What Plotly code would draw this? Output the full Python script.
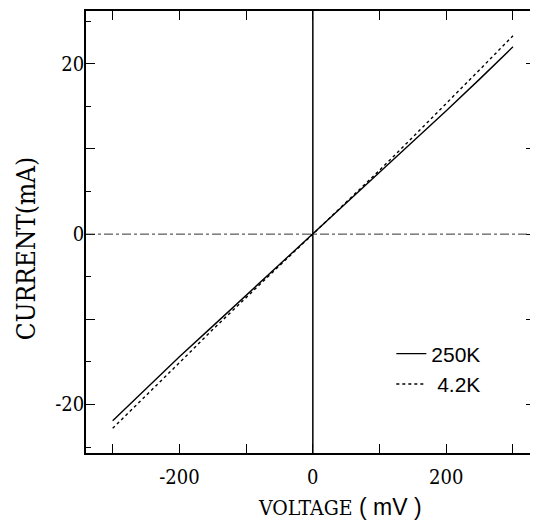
import plotly.graph_objects as go

# Data
voltage_mV = [-300, -250, -200, -150, -100, -50, 0, 50, 100, 150, 200, 250, 300]
current_250K = [-21.9, -18.1, -14.4, -10.8, -7.2, -3.6, 0.0, 3.6, 7.2, 10.8, 14.5, 18.2, 22.0]
current_4K = [-22.8, -19.0, -15.1, -11.2, -7.4, -3.7, 0.0, 3.7, 7.5, 11.4, 15.3, 19.3, 23.3]

x_tickvals = [-300, -200, -100, 0, 100, 200, 300]
x_ticktext = ["", "-200", "", "0", "", "200", ""]
y_tickvals = [-20, -10, 0, 10, 20]
y_ticktext = ["-20", "", "0", "", "20"]

serif = "DejaVu Serif Condensed, DejaVu Serif"
sans = "Liberation Sans"

fig = go.Figure()
fig.add_trace(go.Scatter(x=voltage_mV, y=current_250K, mode="lines", name="250K",
                         line=dict(color="black", width=1.4)))
fig.add_trace(go.Scatter(x=voltage_mV, y=current_4K, mode="lines", name="\u00a04.2K",
                         line=dict(color="black", width=1.4, dash="3px,3px")))

fig.add_vline(x=0, line=dict(color="black", width=1.5))
fig.add_hline(y=0, line=dict(color="#333", width=1, dash="dashdot"))

axis_common = dict(showline=True, linecolor="black", linewidth=1.5, mirror="ticks",
                   ticks="inside", tickcolor="black", tickwidth=1.3, ticklen=9,
                   showgrid=False, zeroline=False,
                   tickfont=dict(family=serif, size=20, color="black"))

fig.update_xaxes(range=[-340, 333], tickmode="array", tickvals=x_tickvals,
                 ticktext=x_ticktext, ticklabelstandoff=5, **axis_common)
fig.update_yaxes(range=[-25.7, 26.2], tickmode="array", tickvals=y_tickvals,
                 ticktext=y_ticktext, ticklabelstandoff=-4,
                 minor=dict(dtick=5, ticks="inside", ticklen=5, tickcolor="black", tickwidth=1.2),
                 **axis_common)

fig.add_annotation(text="CURRENT(mA)", textangle=-90, showarrow=False,
                   xref="paper", yref="paper", x=-0.135, y=0.462,
                   xanchor="center", yanchor="middle",
                   font=dict(family=serif, size=26, color="black"))
fig.add_annotation(text="VOLTAGE<span style='font-family:Liberation Sans;font-size:23px'>\u00a0(\u00a0mV\u00a0)</span>",
                   showarrow=False, xref="paper", yref="paper", x=0.565, y=-0.122,
                   xanchor="center", yanchor="middle",
                   font=dict(family=serif, size=21, color="black"))

fig.update_layout(
    width=530, height=514,
    margin=dict(l=78, r=1, t=1, b=69),
    plot_bgcolor="white", paper_bgcolor="white",
    showlegend=True,
    legend=dict(x=0.68, y=0.19, xanchor="left", yanchor="middle",
                bgcolor="rgba(0,0,0,0)", font=dict(family=sans, size=21, color="black"),
                tracegroupgap=0),
)

fig.write_html("out.html")
